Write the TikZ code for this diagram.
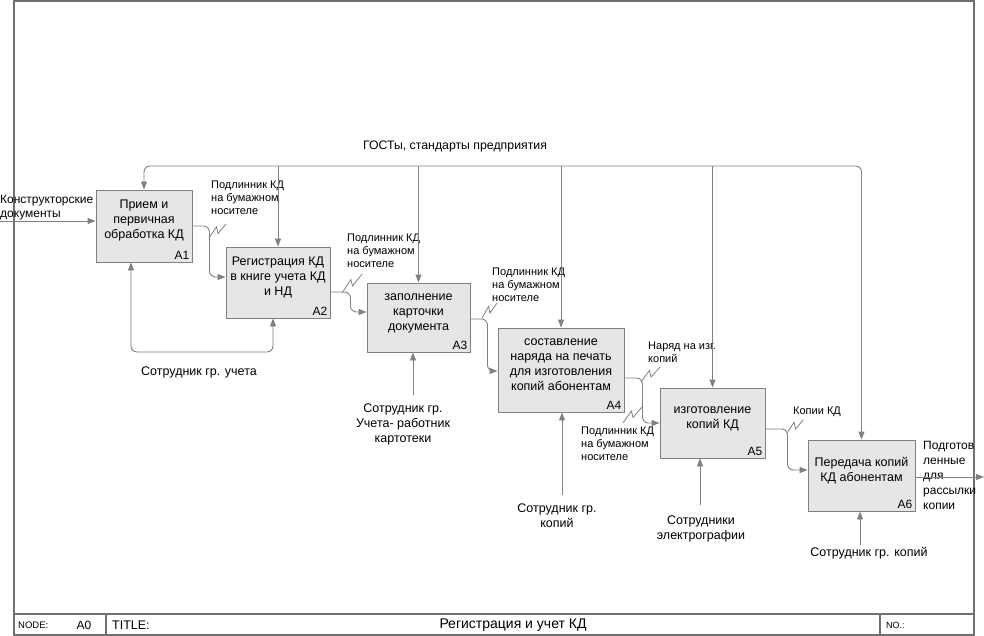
\documentclass[tikz,border=0pt]{standalone}
\usepackage{fontspec}
\setmainfont{Liberation Sans}
\usetikzlibrary{arrows.meta, calc}

\definecolor{linegray}{HTML}{808080}
\definecolor{framegray}{HTML}{707070}
\definecolor{boxfill}{HTML}{E6E6E6}

% box text, set a little above the middle of the box
\newcommand\boxtext[1]{\raisebox{0pt}[\height][\dimexpr\depth+10pt\relax]{\begin{tabular}{@{}c@{}}#1\end{tabular}}}

\begin{document}
\begin{tikzpicture} [x=1pt, y=-1pt,
        box/.style = {draw=linegray, fill=boxfill, line width=0.9pt,
            inner sep=2pt, font=\fontsize{12.5}{15}\selectfont},
        num/.style = {anchor=south east, inner sep=3pt, font=\fontsize{12}{14}\selectfont},
        lbl/.style = {align=left, inner sep=0pt, anchor=north west, font=\fontsize{11}{13}\selectfont},
        mlbl/.style = {align=center, inner sep=0pt, font=\fontsize{12.5}{15}\selectfont},
        arr/.style = {draw=linegray, line width=0.9pt, rounded corners=6pt,
            -{Triangle[length=8pt,width=6pt]}},
        zz/.style = {draw=linegray, line width=0.8pt,
            to path={-- ($(\tikztostart)!0.44!(\tikztotarget)+(0,-5)$)
                     -- ($(\tikztostart)!0.53!(\tikztotarget)+(0,3)$) -- (\tikztotarget)}},
        frame/.style = {draw=framegray, line width=1.2pt}]
        \useasboundingbox (0,0) rectangle (984,636);

        % frame and title bar
        \draw [frame] (14,1) rectangle (974,635);
        \draw [frame] (14,614) -- (974,614);
        \draw [frame] (106,614) -- (106,635);
        \draw [frame] (880,614) -- (880,635);
        \node (nodelbl) [anchor=west, inner sep=0pt, font=\fontsize{9.5}{10}\selectfont] at (18,625) {NODE:};
        \node (nodenum) [inner sep=0pt, font=\fontsize{12}{14}\selectfont] at (84,625) {A0};
        \node (titlelbl) [anchor=west, inner sep=0pt, font=\fontsize{12.5}{14}\selectfont] at (112,625) {TITLE:};
        \node (title) [inner sep=0pt, font=\fontsize{14}{15}\selectfont] at (513,625) {Регистрация и учет КД};
        \node (nolbl) [anchor=west, inner sep=0pt, font=\fontsize{9}{10}\selectfont] at (886,625) {NO.:};

        % activities
        \node (a1) [box, minimum width=96pt, minimum height=72pt, label={[num]south east:A1}] at (144,226) {\boxtext{Прием и\\первичная\\обработка КД}};
        \node (a2) [box, minimum width=104pt, minimum height=71pt, label={[num]south east:A2}] at (278,282.5) {\boxtext{Регистрация КД\\в книге учета КД\\и НД}};
        \node (a3) [box, minimum width=103pt, minimum height=69pt, label={[num]south east:A3}] at (418.5,317.5) {\boxtext{заполнение\\карточки\\документа}};
        \node (a4) [box, minimum width=126pt, minimum height=84pt, label={[num]south east:A4}] at (561,370) {\boxtext{составление\\наряда на печать\\для изготовления\\копий абонентам}};
        \node (a5) [box, minimum width=105pt, minimum height=70pt, label={[num]south east:A5}] at (712.5,423) {\boxtext{изготовление\\копий КД}};
        \node (a6) [box, minimum width=107pt, minimum height=71pt, label={[num]south east:A6}] at (861.5,475.5) {\boxtext{Передача копий\\КД абонентам}};

        % labels
        \node (gost) [mlbl, font=\fontsize{12.3}{15}\selectfont] at (455,146) {ГОСТы, стандарты предприятия};
        \node (lin) [lbl, font=\fontsize{12}{14}\selectfont] at (0,195) {Конструкторские\\документы};
        \node (l12) [lbl] at (211,181) {Подлинник КД\\на бумажном\\носителе};
        \node (l23) [lbl] at (347,234) {Подлинник КД\\на бумажном\\носителе};
        \node (l34) [lbl] at (492,268) {Подлинник КД\\на бумажном\\носителе};
        \node (l45a) [lbl] at (648,342) {Наряд на изг.\\копий};
        \node (l45b) [lbl] at (581,427) {Подлинник КД\\на бумажном\\носителе};
        \node (l56) [lbl] at (793,407) {Копии КД};
        \node (lout) [lbl, font=\fontsize{12}{15}\selectfont] at (923,441) {Подготов\\ленные\\для\\рассылки\\копии};
        \node (m12) [mlbl] at (199,372) {Сотрудник гр. учета};
        \node (m3) [mlbl] at (403,424) {Сотрудник гр.\\Учета- работник\\картотеки};
        \node (m4) [mlbl] at (557,515.5) {Сотрудник гр.\\копий};
        \node (m5) [mlbl] at (701,529) {Сотрудники\\электрографии};
        \node (m6) [mlbl] at (869,553) {Сотрудник гр. копий};

        % free ends
        \coordinate (in1) at (0,221);
        \coordinate (out6) at (984,477);
        \coordinate (ctl) at (455,166);
        \coordinate (mech12) at (207,352);
        \coordinate (mech3) at (413,395);
        \coordinate (mech4) at (562,495);
        \coordinate (mech5) at (700,505);
        \coordinate (mech6) at (860,545);

        % controls
        \draw [arr] (ctl) -| (a1.north);
        \draw [arr] (ctl) -| (a6.north);
        \foreach \b in {a2,a3,a4,a5}
            \draw [arr] (\b.north |- ctl) -- (\b.north);

        % inputs and outputs
        \draw [arr] (in1) -- (in1 -| a1.west);
        \draw [arr] (a1.east) -- ++(17,0) |- ([yshift=5.5pt]a2.west);
        \draw [arr] ([yshift=-9.5pt]a2.east) -- ++(20,0) |- ([yshift=5.5pt]a3.west);
        \draw [arr] ([yshift=-1.5pt]a3.east) -- ++(17,0) |- ([yshift=-1pt]a4.west);
        \draw [arr] ([yshift=-8pt]a4.east) -- ++(18,0) |- (a5.west);
        \draw [arr] ([yshift=-6pt]a5.east) -- ++(22,0) |- ([yshift=5.5pt]a6.west);
        \draw [arr] (a6.east |- out6) -- (out6);

        % mechanisms
        \draw [arr] (mech12) -| ([xshift=-13pt]a1.south);
        \draw [arr] (mech12) -| ([xshift=-5pt]a2.south);
        \draw [arr] (mech3) -- (mech3 |- a3.south);
        \draw [arr] (mech4) -- (mech4 |- a4.south);
        \draw [arr] (mech5) -- (mech5 |- a5.south);
        \draw [arr] (mech6) -- (mech6 |- a6.south);

        % squiggles from labels to arrows
        \coordinate (z12a) at (209,238);  \coordinate (z12b) at (226,224);
        \coordinate (z23a) at (342,293);  \coordinate (z23b) at (362,274);
        \coordinate (z34a) at (482,318);  \coordinate (z34b) at (497,303);
        \coordinate (z45a) at (641,382);  \coordinate (z45b) at (660,367);
        \coordinate (z45c) at (623,423);  \coordinate (z45d) at (642,407);
        \coordinate (z56a) at (787,433);  \coordinate (z56b) at (803,420);
        \draw [zz] (z12a) to (z12b);
        \draw [zz] (z23a) to (z23b);
        \draw [zz] (z34a) to (z34b);
        \draw [zz] (z45a) to (z45b);
        \draw [zz] (z45c) to (z45d);
        \draw [zz] (z56a) to (z56b);

    \end{tikzpicture}
\end{document}
